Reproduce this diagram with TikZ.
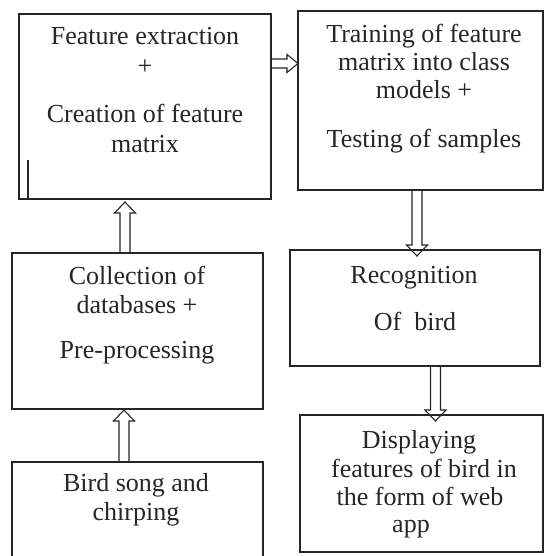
\documentclass[tikz,border=0pt]{standalone}
\usepackage{fontspec}
\setmainfont{Liberation Serif}
\usetikzlibrary{calc}
\tikzset{
  box/.style={rectangle, draw=black!85, line width=1.5pt, inner sep=0pt, outer sep=0pt},
  txt/.style={anchor=base, inner sep=0pt, outer sep=0pt, text=black!85, font=\fontsize{26}{29}\selectfont},
  arrowline/.style={draw=black!85, line width=1.1pt, line join=miter},
}
% block arrow: start, end, shaft half width, head half width
\newcommand\blockarr[4]{%
  \coordinate (ha) at (#1);
  \coordinate (hb) at (#2);
  \coordinate (hh) at ($(hb)!11pt!(ha)$);
  \draw[arrowline] ($(ha)!#3!90:(hb)$) -- ($(hh)!#3!-90:(ha)$) -- ($(hh)!#4!-90:(ha)$)
     -- (hb) -- ($(hh)!#4!90:(ha)$) -- ($(hh)!#3!90:(ha)$) -- ($(ha)!#3!-90:(hb)$);}
\begin{document}
\begin{tikzpicture}[x=1pt,y=-1pt]
\clip (0,0) rectangle (545,556);
\fill[white] (0,0) rectangle (545,556);

% boxes
\node[box, minimum width=252pt, minimum height=185pt] (b1) at (145,106.5) {};
\node[box, minimum width=245pt, minimum height=179pt] (b2) at (420.5,100.5) {};
\node[box, minimum width=251pt, minimum height=156pt] (b3) at (137.5,331) {};
\node[box, minimum width=251pt, minimum height=108pt] (b4) at (137.5,516) {};
\node[box, minimum width=250pt, minimum height=116pt] (b5) at (415,308) {};
\node[box, minimum width=243pt, minimum height=137pt] (b6) at (421.5,483.5) {};

% texts
\node[txt] (t1a) at (145,45) {Feature extraction};
\node[txt] (t1b) at (145,75) {+};
\node[txt] (t1c) at (145,123) {Creation of feature};
\node[txt] (t1d) at (145,153) {matrix};

\node[txt] (t2a) at (424,43) {Training of feature};
\node[txt] (t2b) at (424,71) {matrix into class};
\node[txt] (t2c) at (424,99) {models +};
\node[txt] (t2d) at (424,148) {Testing of samples};

\node[txt] (t3a) at (137,284) {Collection of};
\node[txt] (t3b) at (137,313) {databases +};
\node[txt] (t3c) at (137,358) {Pre-processing};

\node[txt] (t4a) at (136,491) {Bird song and};
\node[txt] (t4b) at (136,520) {chirping};

\node[txt] (t5a) at (414,283) {Recognition};
\node[txt] (t5b) at (415,330) {Of\ \ bird};

\node[txt] (t6a) at (419,448) {Displaying};
\node[txt] (t6b) at (424,477) {features of bird in};
\node[txt] (t6c) at (420,505) {the form of web};
\node[txt] (t6d) at (411,532) {app};

% small mark inside first box
\coordinate (mk) at ($(b1.south west)+(9,0)$);
\draw[black!85, line width=1.2pt] (mk) -- ++(0,-39);

% arrows
\blockarr{b1.east |- 0,63.5}{b2.west |- 0,63.5}{4.5pt}{9pt}
\blockarr{b3.north -| 125,0}{$(b1.south -| 125,0)+(0,3)$}{5pt}{10.5pt}
\blockarr{b4.north -| 124,0}{$(b3.south -| 124,0)+(0,1)$}{5pt}{10.5pt}
\blockarr{b2.south -| 417,0}{$(b5.north -| 417,0)+(0,6)$}{5pt}{10.5pt}
\blockarr{b5.south -| 435.5,0}{$(b6.north -| 435.5,0)+(0,6)$}{5pt}{10.5pt}
\end{tikzpicture}
\end{document}
